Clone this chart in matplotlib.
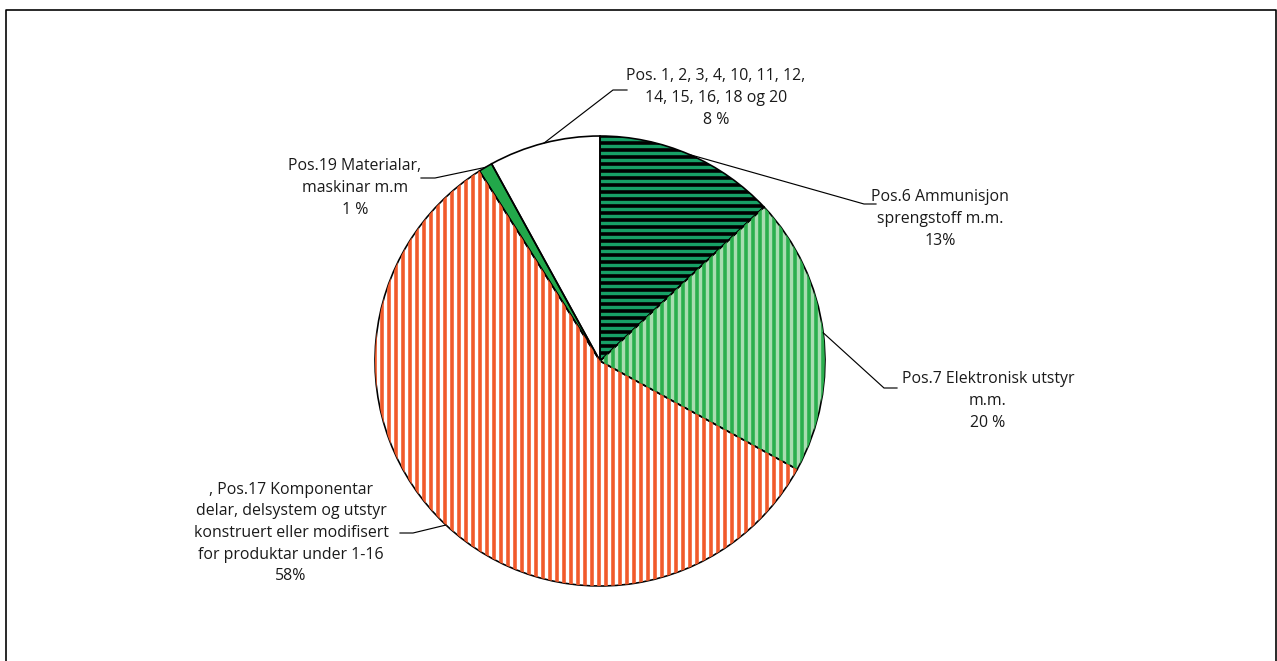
import matplotlib.pyplot as plt
import numpy as np
from matplotlib.collections import LineCollection

# slices, clockwise from 12 o'clock
labels = [
    "Pos.6 Ammunisjon\nsprengstoff m.m.\n13%",
    "Pos.7 Elektronisk utstyr\nm.m.\n20 %",
    ", Pos.17 Komponentar\ndelar, delsystem og utstyr\nkonstruert eller modifisert\nfor produktar under 1-16\n58%",
    "Pos.19 Materialar,\nmaskinar m.m\n1 %",
    "Pos. 1, 2, 3, 4, 10, 11, 12,\n14, 15, 16, 18 og 20\n8 %",
]
shares = [13, 20, 58, 1, 8]
face_colors = ["#17A066", "#A9DDB1", "#FFFFFF", "#22A84A", "#FFFFFF"]
stripe_colors = ["#000000", "#2BAF4E", "#F15A2B", None, None]
stripe_dirs = ["h", "v", "v", None, None]

W, H, DPI = 1277, 661, 84
# label layout in pixels (top-left origin): text centre, elbow, line end
label_pos = [(940, 219), (988, 401), (291, 533), (355, 188), (716, 98)]
elbows = [(864, 204), (884, 388), (413, 533), (435, 178), (613, 90)]
ends = [(876, 204), (897, 388), (400, 533), (421, 178), (627, 90)]

plt.rcParams["font.family"] = ["Open Sans", "DejaVu Sans"]


def flip(p):
    return p[0], H - p[1]


fig = plt.figure(figsize=(W / DPI, H / DPI), dpi=DPI)
ax = fig.add_axes([0, 0, 1, 1])

center = flip((600, 361))
radius = 225
period = 7.0
stripe_lw = 3.6 * 72 / DPI

wedges, _ = ax.pie(shares, startangle=90, counterclock=False, center=center,
                   radius=radius, colors=face_colors,
                   wedgeprops=dict(linewidth=0))

# striped fills, clipped to each wedge
for w, sc, sd in zip(wedges, stripe_colors, stripe_dirs):
    if sc is None:
        continue
    if sd == "v":
        xs = np.arange(center[0] - radius, center[0] + radius, period)
        segs = [[(x, center[1] - radius), (x, center[1] + radius)] for x in xs]
    else:
        ys = np.arange(center[1] + radius, center[1] - radius, -period)
        segs = [[(center[0] - radius, y), (center[0] + radius, y)] for y in ys]
    lc = LineCollection(segs, colors=sc, linewidths=stripe_lw, capstyle="butt")
    ax.add_collection(lc)
    lc.set_clip_path(w)

# outlines on top
ax.pie(shares, startangle=90, counterclock=False, center=center, radius=radius,
       wedgeprops=dict(fill=False, edgecolor="black", linewidth=1.4))

for w, text, tp, el, en in zip(wedges, labels, label_pos, elbows, ends):
    mid = np.deg2rad((w.theta1 + w.theta2) / 2)
    start = (center[0] + radius * np.cos(mid), center[1] + radius * np.sin(mid))
    e1, e2 = flip(el), flip(en)
    ax.plot([start[0], e1[0], e2[0]], [start[1], e1[1], e2[1]],
            color="black", lw=1.0, solid_joinstyle="miter")
    x, y = flip(tp)
    ax.text(x, y, text, ha="center", va="center", multialignment="center",
            fontsize=13.6, color="#1a1a1a", linespacing=1.46)

ax.set_xlim(0, W)
ax.set_ylim(0, H)
ax.set_aspect("equal")
ax.axis("off")

# outer frame
ax.plot([5.5, 5.5, W - 1.5, W - 1.5], [0, H - 9.5, H - 9.5, 0],
        color="black", lw=1.4, clip_on=False)

fig.savefig("out.png", dpi=DPI)
